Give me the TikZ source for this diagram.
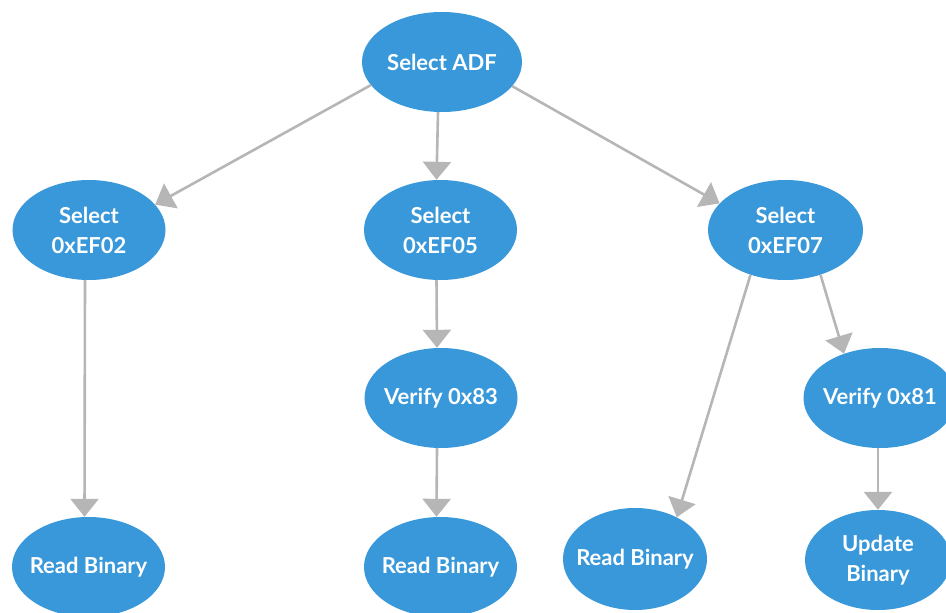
\documentclass[tikz,border=0pt]{standalone}
\usepackage{fontspec}
\setmainfont{Lato}
\usetikzlibrary{shapes.geometric,arrows.meta}

\definecolor{nodeblue}{RGB}{56,152,218}
\definecolor{linkgray}{RGB}{182,182,182}

\tikzset{
  blob/.style={ellipse, fill=nodeblue, draw=none, inner sep=0pt,
               minimum width=153pt, minimum height=100pt},
  txt/.style={text=white, font=\fontsize{22}{30}\selectfont\bfseries,
              align=center, inner sep=0pt},
  link/.style={draw=linkgray, line width=2.6pt,
               -{Triangle[width=28pt,length=18pt]}}
}

\begin{document}
\begin{tikzpicture}[x=1pt,y=-1pt]
  \useasboundingbox (0,0) rectangle (946,613);

  % nodes
  \node[blob, minimum width=160pt, label={[txt]center:Select ADF}] (adf) at (442,62) {};
  \node[blob, label={[txt]center:Select\\0xEF02}] (ef02) at (89,230) {};
  \node[blob, label={[txt]center:Select\\0xEF05}] (ef05) at (440.5,230) {};
  \node[blob, minimum width=155pt, label={[txt]center:Select\\0xEF07}] (ef07) at (785.5,230) {};
  \node[blob, label={[txt]center:Verify 0x83}] (v83) at (441,398) {};
  \node[blob, label={[txt]center:Verify 0x81}] (v81) at (880,398) {};
  \node[blob, label={[txt]center:Read Binary}] (readl) at (88.5,567) {};
  \node[blob, label={[txt]center:Read Binary}] (readm) at (440.5,567) {};
  \node[blob, minimum width=144pt, minimum height=102pt, label={[txt]center:Read Binary}] (readr) at (635,559) {};
  \node[blob, minimum width=146pt, label={[txt]center:Update\\Binary}] (upd) at (878,560) {};

  % connectors
  \draw[link] (adf.198) -- (ef02.21);
  \draw[link] ([xshift=-4pt]adf.south) -- ([xshift=-4pt]ef05.north);
  \draw[link] (adf.341) -- (ef07.158);
  \draw[link] ([xshift=-4pt]ef02.south) -- ([xshift=-4pt]readl.north);
  \draw[link] ([xshift=-4pt]ef05.south) -- ([xshift=-4pt]v83.north);
  \draw[link] ([xshift=-4pt]v83.south) -- ([xshift=-4pt]readm.north);
  \draw[link] (ef07.232) -- (readr.45);
  \draw[link] (ef07.308) -- (v81.129);
  \draw[link] ([xshift=-2pt]v81.south) -- ([xshift=0pt]upd.north);
\end{tikzpicture}
\end{document}
